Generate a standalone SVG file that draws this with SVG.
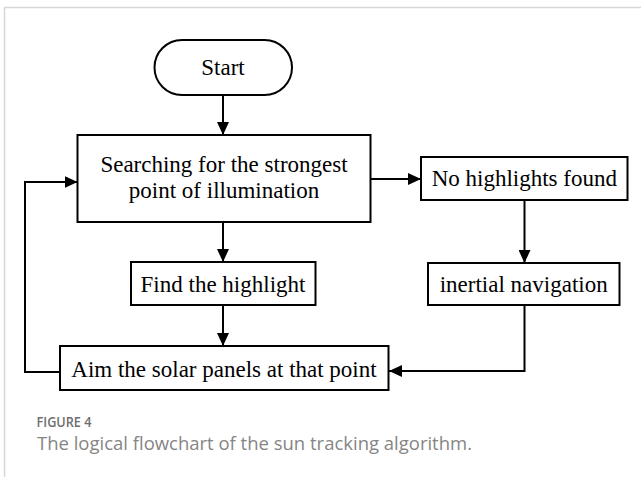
<svg xmlns="http://www.w3.org/2000/svg" width="641" height="477" viewBox="0 0 641 477">
<style>
.box{fill:#fff;stroke:#000;stroke-width:2}
.t{font-family:"Liberation Serif","Times New Roman",serif;font-size:23px;fill:#000;text-anchor:middle}
.ln{fill:none;stroke:#000;stroke-width:2}
.frame{fill:none;stroke:#d6d6d6;stroke-width:1.5}
.cap1{font-family:"Open Sans","Noto Sans",sans-serif;font-size:13.5px;font-weight:600;fill:#6e6e6e}
.cap2{font-family:"Open Sans","Noto Sans",sans-serif;font-size:17.5px;font-weight:400;fill:#858585}
</style>
<defs>
<marker id="ah" markerWidth="13" markerHeight="12" refX="13" refY="6" orient="auto" markerUnits="userSpaceOnUse">
<path d="M0,0 L13,6 L0,12 Z" fill="#000"/>
</marker>
</defs>
<rect width="641" height="477" fill="#fff"/>
<path class="frame" d="M641,7.5 H4.5 V477"/>
<g id="connectors">
<path class="ln" d="M223,95 V135" marker-end="url(#ah)"/>
<path class="ln" d="M223,222 V262" marker-end="url(#ah)"/>
<path class="ln" d="M223,305 V346" marker-end="url(#ah)"/>
<path class="ln" d="M370.5,179 H421" marker-end="url(#ah)"/>
<path class="ln" d="M524.5,200 V263" marker-end="url(#ah)"/>
<path class="ln" d="M524.5,305 V371 H389" marker-end="url(#ah)"/>
<path class="ln" d="M60,372 H25 V182 H77.5" marker-end="url(#ah)"/>
</g>
<g id="start">
<rect class="box" x="154.5" y="40" width="137.5" height="55" rx="27.5" ry="27.5"/>
<text class="t" x="223" y="74.5">Start</text>
</g>
<g id="search">
<rect class="box" x="77.5" y="135" width="293" height="87"/>
<text class="t" x="224" y="171.5">Searching for the strongest</text>
<text class="t" x="224" y="198">point of illumination</text>
</g>
<g id="nohighlights">
<rect class="box" x="421" y="157" width="206.5" height="43"/>
<text class="t" x="524.3" y="186">No highlights found</text>
</g>
<g id="find">
<rect class="box" x="131" y="262" width="184.5" height="43"/>
<text class="t" x="223" y="291.5">Find the highlight</text>
</g>
<g id="inertial">
<rect class="box" x="428" y="263" width="191.5" height="42"/>
<text class="t" x="523.7" y="291.5">inertial navigation</text>
</g>
<g id="aim">
<rect class="box" x="60" y="346" width="328.5" height="44"/>
<text class="t" x="224" y="376.5">Aim the solar panels at that point</text>
</g>
<text class="cap1" x="36.5" y="427" textLength="55" lengthAdjust="spacingAndGlyphs">FIGURE 4</text>
<text class="cap2" x="37" y="450" textLength="435" lengthAdjust="spacingAndGlyphs">The logical flowchart of the sun tracking algorithm.</text>
</svg>
